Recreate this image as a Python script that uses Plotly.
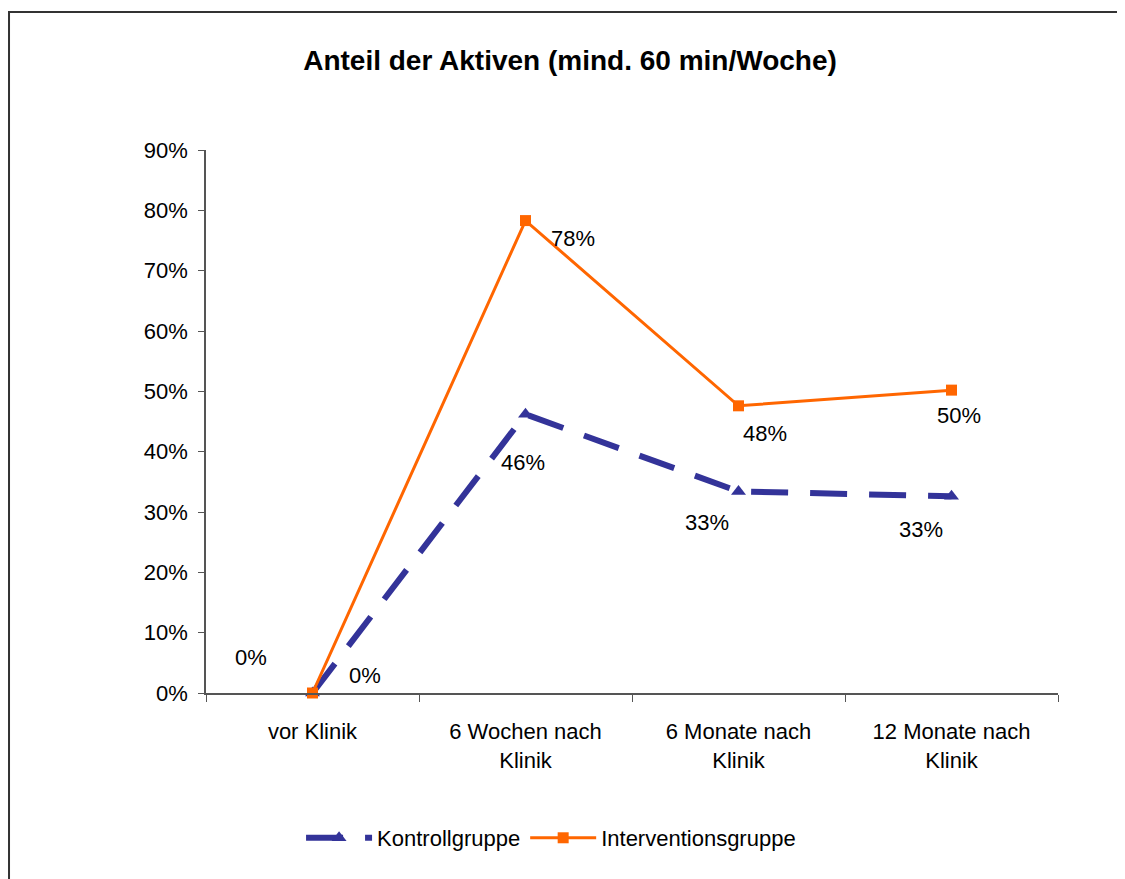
import plotly.graph_objects as go

# categories and values
categories = ["vor Klinik", "6 Wochen nach<br>Klinik", "6 Monate nach<br>Klinik", "12 Monate nach<br>Klinik"]
kontroll = [0.0, 0.462, 0.334, 0.326]
intervention = [0.0, 0.783, 0.476, 0.502]

# label offsets (px) as placed in the original
kontroll_shift = [(52, 18), (-3, -48), (-32, -31), (-31, -33)]
intervention_shift = [(-62, 36), (47, -18), (26, -28), (7, -25)]

BLUE = "#333399"
ORANGE = "#FF6600"
FONT = "Liberation Sans, Arial, sans-serif"

fig = go.Figure()

fig.add_trace(go.Scatter(
    x=categories, y=kontroll, name="Kontrollgruppe", mode="lines+markers",
    line=dict(color=BLUE, width=6, dash="37px,22px"),
    marker=dict(symbol="triangle-up", size=13, color=BLUE),
    cliponaxis=False))

fig.add_trace(go.Scatter(
    x=categories, y=intervention, name="Interventionsgruppe", mode="lines+markers",
    line=dict(color=ORANGE, width=3),
    marker=dict(symbol="square", size=11, color=ORANGE),
    cliponaxis=False))

# data labels
for vals, shifts in ((kontroll, kontroll_shift), (intervention, intervention_shift)):
    for cat, v, (dx, dy) in zip(categories, vals, shifts):
        fig.add_annotation(x=cat, y=v, text=f"{round(v * 100):.0f}%", showarrow=False,
                           xshift=dx, yshift=dy, font=dict(size=22, color="black", family=FONT))

# outer chart frame
fig.add_shape(type="rect", xref="paper", yref="paper", x0=-0.2312, y0=-0.6, x1=1.3, y1=1.254,
              line=dict(color="#333333", width=2), layer="below")

fig.update_layout(
    width=1125, height=879,
    margin=dict(l=198, r=75, t=142, b=194),
    paper_bgcolor="white", plot_bgcolor="white",
    font=dict(family=FONT, size=22, color="black"),
    title=dict(text="<b>Anteil der Aktiven (mind. 60 min/Woche)</b>",
               x=(570 - 8) / 1125, xanchor="center", y=1 - 52 / 879, yanchor="middle",
               font=dict(size=28, family=FONT, color="black")),
    showlegend=True,
    legend=dict(orientation="h", x=0.405, xanchor="center", y=-0.267, yanchor="middle",
                font=dict(size=22, family=FONT), itemwidth=66, traceorder="normal"),
)

fig.update_xaxes(
    range=[-0.5, 3.5], showline=True, linecolor="#555555", linewidth=1.5,
    ticks="outside", tickson="boundaries", ticklen=7, tickcolor="#555555",
    ticklabelstandoff=18, showgrid=False, zeroline=False, tickfont=dict(size=22))

fig.update_yaxes(
    range=[0, 0.9], dtick=0.1, tickformat=".0%", showline=True, linecolor="#555555",
    linewidth=1.5, ticks="outside", ticklen=6, tickcolor="#555555",
    ticklabelstandoff=6, showgrid=False, zeroline=False, tickfont=dict(size=22))

fig.write_html("out.html")
